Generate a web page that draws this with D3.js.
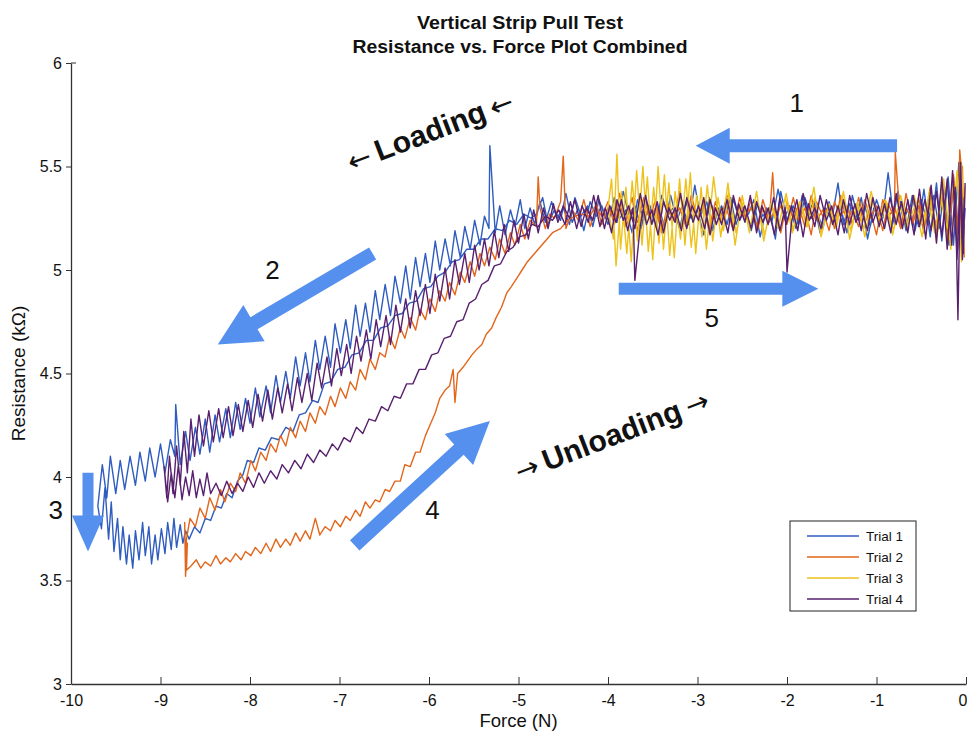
<!DOCTYPE html>
<html>
<head>
<meta charset="utf-8">
<script src="https://cdn.jsdelivr.net/npm/d3@7"></script>
<style>
body { margin: 0; background: #fff; }
svg text { font-family: "Liberation Sans", Arial, sans-serif; fill: #111; }
</style>
</head>
<body>
<div id="chart"></div>
<script>
// axis ticks
const xTicks = [-10, -9, -8, -7, -6, -5, -4, -3, -2, -1, 0];
const yTicks = [3, 3.5, 4, 4.5, 5, 5.5, 6];

const trialNames = ["Trial 1", "Trial 2", "Trial 3", "Trial 4"];
const trialColors = ["#2f5cbf", "#e2661b", "#edc21c", "#58206e"];

// [force (N), resistance (kOhm)], in recording order
const trial1 = [
  [-0.03,5.10],[-0.06,5.50],[-0.1,5.18],[-0.14,5.45],[-0.19,5.12],[-0.24,5.40],[-0.3,5.20],[-0.36,5.36],[-0.43,5.22],[-0.5,5.34],[-0.57,5.19],[-0.63,5.31],[-0.7,5.24],[-0.76,5.38],[-0.83,5.21],[-0.9,5.33],[-0.97,5.26],[-1.03,5.30],[-1.1,5.15],[-1.17,5.35],[-1.23,5.25],[-1.3,5.32],[-1.37,5.22],[-1.43,5.42],[-1.5,5.24],[-1.57,5.30],[-1.63,5.18],[-1.7,5.33],[-1.77,5.27],[-1.83,5.36],[-1.9,5.20],[-1.97,5.31],[-2.03,5.25],[-2.1,5.39],[-2.17,5.23],[-2.23,5.30],[-2.3,5.16],[-2.37,5.34],[-2.43,5.27],[-2.5,5.31],[-2.57,5.22],[-2.63,5.35],[-2.7,5.25],[-2.77,5.30],[-2.83,5.19],[-2.9,5.33],[-2.97,5.26],[-3.03,5.41],[-3.1,5.22],[-3.17,5.31],[-3.23,5.24],[-3.3,5.36],[-3.37,5.21],[-3.43,5.30],[-3.5,5.26],[-3.57,5.33],[-3.63,5.20],[-3.7,5.31],[-3.77,5.27],[-3.83,5.38],[-3.9,5.23],[-3.97,5.30],[-4.03,5.25],[-4.1,5.34],[-4.17,5.21],[-4.23,5.31],[-4.3,5.26],[-4.37,5.35],[-4.43,5.22],[-4.5,5.30],[-4.57,5.25],[-4.63,5.33],[-4.7,5.23],
  [-4.76,5.33],[-4.82,5.22],[-4.87,5.30],[-4.93,5.20],[-4.98,5.34],[-5.04,5.21],[-5.09,5.29],[-5.15,5.17],[-5.21,5.31],[-5.26,5.18],[-5.32,5.60],[-5.33,5.20],[-5.38,5.26],[-5.43,5.12],[-5.49,5.24],[-5.54,5.10],[-5.6,5.21],[-5.65,5.06],[-5.71,5.19],[-5.76,5.02],[-5.82,5.15],[-5.88,5.00],[-5.93,5.14],[-5.99,4.94],[-6.04,5.08],[-6.1,4.92],[-6.15,5.06],[-6.21,4.86],[-6.26,5.02],[-6.32,4.84],[-6.38,4.97],[-6.43,4.78],[-6.49,4.93],[-6.55,4.76],[-6.6,4.90],[-6.66,4.70],[-6.71,4.84],[-6.77,4.68],[-6.82,4.83],[-6.88,4.62],[-6.93,4.76],[-6.99,4.60],[-7.05,4.74],[-7.1,4.53],[-7.16,4.68],[-7.22,4.52],[-7.27,4.66],[-7.33,4.46],[-7.38,4.60],[-7.44,4.44],[-7.49,4.58],[-7.55,4.38],[-7.6,4.51],[-7.66,4.36],[-7.71,4.49],[-7.77,4.31],[-7.82,4.44],[-7.89,4.29],[-7.94,4.43],[-8.0,4.26],[-8.05,4.38],[-8.11,4.23],[-8.16,4.36],[-8.22,4.19],[-8.27,4.33],[-8.34,4.17],[-8.39,4.30],[-8.45,4.12],[-8.5,4.28],[-8.56,4.11],[-8.61,4.24],[-8.67,4.08],[-8.72,4.22],[-8.78,4.06],[-8.83,4.35],[-8.84,4.10],[-8.89,4.18],[-8.95,4.02],[-9.0,4.16],[-9.06,4.00],[-9.12,4.14],[-9.17,3.98],[-9.23,4.12],[-9.28,3.96],[-9.34,4.10],[-9.4,3.94],[-9.45,4.08],[-9.5,3.92],[-9.56,4.10],[-9.6,3.90],[-9.65,4.06],[-9.7,3.86],
  [-9.66,3.75],[-9.62,3.95],[-9.58,3.70],[-9.55,3.88],[-9.52,3.64],[-9.48,3.80],[-9.45,3.60],[-9.42,3.76],[-9.38,3.58],[-9.35,3.72],[-9.31,3.56],[-9.28,3.74],[-9.24,3.60],[-9.2,3.78],[-9.17,3.62],[-9.13,3.76],[-9.1,3.58],[-9.06,3.72],[-9.03,3.60],[-8.99,3.75],[-8.95,3.63],[-8.92,3.78],[-8.88,3.65],[-8.85,3.80],[-8.82,3.66],[-8.78,3.77],[-8.75,3.68],[-8.72,3.74],
  [-8.68,3.70],[-8.62,3.76],[-8.56,3.73],[-8.5,3.80],[-8.44,3.79],[-8.38,3.86],[-8.32,3.85],[-8.26,3.92],[-8.2,3.90],[-8.14,3.98],[-8.08,4.01],[-8.03,4.08],[-7.96,4.07],[-7.9,4.14],[-7.83,4.13],[-7.76,4.19],[-7.68,4.18],[-7.6,4.24],[-7.52,4.22],[-7.45,4.30],[-7.38,4.31],[-7.3,4.37],[-7.24,4.36],[-7.17,4.45],[-7.1,4.46],[-7.02,4.52],[-6.94,4.53],[-6.86,4.59],[-6.78,4.60],[-6.7,4.66],[-6.62,4.66],[-6.54,4.72],[-6.46,4.73],[-6.38,4.78],[-6.3,4.79],[-6.22,4.84],[-6.14,4.85],[-6.06,4.91],[-5.98,4.92],[-5.9,4.97],[-5.82,4.99],[-5.74,5.04],[-5.66,5.05],[-5.58,5.10],[-5.5,5.10],[-5.42,5.15],[-5.34,5.15],[-5.26,5.20],[-5.18,5.19],[-5.1,5.24],[-5.02,5.22],[-4.94,5.27],[-4.86,5.25],
  [-4.8,5.27],[-4.73,5.35],[-4.67,5.22],[-4.6,5.29],[-4.53,5.24],[-4.47,5.37],[-4.4,5.23],[-4.33,5.30],[-4.27,5.19],[-4.2,5.33],[-4.13,5.26],[-4.07,5.31],[-4.0,5.22],[-3.93,5.35],[-3.87,5.25],[-3.8,5.29],[-3.73,5.18],[-3.67,5.34],[-3.6,5.24],[-3.53,5.31],[-3.47,5.21],[-3.4,5.36],[-3.33,5.27],[-3.27,5.30],[-3.2,5.20],[-3.13,5.33],[-3.07,5.25],[-3.0,5.29],[-2.93,5.17],[-2.87,5.35],[-2.8,5.26],[-2.73,5.31],[-2.67,5.22],[-2.6,5.34],[-2.53,5.24],[-2.47,5.29],[-2.4,5.19],[-2.33,5.32],[-2.27,5.26],[-2.2,5.30],[-2.13,5.15],[-2.07,5.38],[-2.0,5.24],[-1.93,5.31],[-1.87,5.22],[-1.8,5.35],[-1.73,5.25],[-1.67,5.29],[-1.6,5.20],[-1.53,5.33],[-1.47,5.23],[-1.4,5.30],[-1.33,5.18],[-1.27,5.36],[-1.2,5.24],[-1.13,5.31],[-1.07,5.21],[-1.0,5.34],[-0.93,5.25],[-0.87,5.47],[-0.8,5.22],[-0.73,5.33],[-0.67,5.19],[-0.6,5.36],[-0.53,5.21],[-0.47,5.39],[-0.4,5.16],[-0.33,5.42],[-0.27,5.14],[-0.2,5.45],[-0.14,5.12],[-0.08,5.52],[-0.04,5.08],[-0.01,5.30]
];

const trial2 = [
  [-0.02,5.28],[-0.05,5.48],[-0.07,5.58],[-0.09,5.15],[-0.14,5.40],[-0.2,5.18],[-0.27,5.37],[-0.33,5.21],[-0.4,5.33],[-0.47,5.22],[-0.53,5.35],[-0.6,5.24],[-0.67,5.30],[-0.73,5.20],[-0.79,5.57],[-0.8,5.25],[-0.87,5.32],[-0.93,5.19],[-1.0,5.31],[-1.07,5.25],[-1.13,5.34],[-1.2,5.21],[-1.27,5.29],[-1.33,5.23],[-1.4,5.36],[-1.47,5.20],[-1.53,5.31],[-1.6,5.26],[-1.67,5.33],[-1.73,5.17],[-1.8,5.30],[-1.87,5.24],[-1.93,5.35],[-2.0,5.22],[-2.07,5.31],[-2.13,5.25],[-2.16,5.47],[-2.2,5.23],[-2.27,5.30],[-2.33,5.19],[-2.4,5.34],[-2.47,5.24],[-2.53,5.31],[-2.6,5.21],[-2.67,5.36],[-2.73,5.26],[-2.8,5.30],[-2.87,5.18],[-2.93,5.33],[-3.0,5.25],[-3.07,5.31],[-3.13,5.22],[-3.2,5.38],[-3.27,5.24],[-3.33,5.29],[-3.4,5.20],[-3.47,5.34],[-3.53,5.25],[-3.6,5.30],[-3.67,5.19],[-3.73,5.35],[-3.8,5.24],[-3.87,5.31],[-3.93,5.22],[-4.0,5.33],[-4.07,5.26],[-4.13,5.30],[-4.2,5.21],[-4.27,5.34],[-4.33,5.24],[-4.4,5.29],[-4.47,5.20],[-4.5,5.55],[-4.53,5.33],[-4.6,5.25],
  [-4.65,5.27],[-4.7,5.20],[-4.76,5.30],[-4.78,5.45],[-4.8,5.21],[-4.87,5.24],[-4.93,5.15],[-4.98,5.22],[-5.04,5.12],[-5.09,5.18],[-5.15,5.08],[-5.21,5.15],[-5.26,5.05],[-5.32,5.11],[-5.38,5.02],[-5.43,5.08],[-5.49,4.97],[-5.54,5.04],[-5.6,4.94],[-5.65,4.99],[-5.71,4.88],[-5.77,4.94],[-5.82,4.85],[-5.88,4.90],[-5.93,4.80],[-5.99,4.86],[-6.04,4.76],[-6.1,4.81],[-6.15,4.71],[-6.21,4.77],[-6.27,4.67],[-6.32,4.72],[-6.38,4.62],[-6.44,4.68],[-6.49,4.58],[-6.55,4.60],[-6.6,4.52],[-6.66,4.57],[-6.71,4.47],[-6.77,4.52],[-6.82,4.42],[-6.88,4.46],[-6.93,4.38],[-6.99,4.43],[-7.05,4.34],[-7.1,4.39],[-7.16,4.30],[-7.22,4.34],[-7.27,4.26],[-7.33,4.31],[-7.38,4.22],[-7.44,4.27],[-7.49,4.19],[-7.55,4.24],[-7.6,4.15],[-7.66,4.20],[-7.71,4.12],[-7.77,4.16],[-7.82,4.08],[-7.88,4.12],[-7.94,4.03],[-7.99,4.08],[-8.05,3.97],[-8.11,4.02],[-8.16,3.93],[-8.22,3.97],[-8.28,3.88],[-8.33,3.94],[-8.39,3.84],[-8.45,3.90],[-8.5,3.80],[-8.56,3.85],[-8.61,3.76],[-8.67,3.80],[-8.71,3.70],
  [-8.72,3.58],[-8.73,3.78],[-8.72,3.52],[-8.7,3.68],[-8.71,3.55],
  [-8.66,3.57],[-8.6,3.60],[-8.55,3.56],[-8.5,3.59],[-8.44,3.57],[-8.38,3.62],[-8.33,3.58],[-8.27,3.61],[-8.22,3.59],[-8.16,3.63],[-8.1,3.60],[-8.05,3.64],[-7.99,3.62],[-7.94,3.66],[-7.88,3.63],[-7.82,3.68],[-7.77,3.64],[-7.71,3.70],[-7.66,3.66],[-7.6,3.70],[-7.55,3.67],[-7.49,3.73],[-7.44,3.69],[-7.38,3.74],[-7.33,3.70],[-7.27,3.80],[-7.22,3.72],[-7.16,3.76],[-7.1,3.74],[-7.05,3.79],[-6.99,3.76],[-6.93,3.81],[-6.88,3.79],[-6.82,3.84],[-6.77,3.81],[-6.71,3.88],[-6.66,3.85],[-6.6,3.89],[-6.55,3.88],[-6.49,3.94],[-6.44,3.93],[-6.38,3.98],[-6.32,3.98],[-6.27,4.06],[-6.21,4.05],[-6.15,4.12],[-6.1,4.12],[-6.04,4.20],[-5.99,4.25],[-5.93,4.31],[-5.88,4.38],[-5.82,4.42],[-5.77,4.44],[-5.73,4.52],[-5.71,4.36],[-5.68,4.50],[-5.62,4.53],[-5.57,4.56],[-5.52,4.59],[-5.46,4.62],[-5.41,4.64],[-5.36,4.69],[-5.3,4.72],[-5.25,4.77],[-5.19,4.82],[-5.13,4.89],[-5.08,4.92],[-5.02,4.96],[-4.96,5.00],[-4.9,5.04],[-4.84,5.07],[-4.78,5.10],[-4.7,5.14],[-4.62,5.18],[-4.53,5.20],[-4.45,5.24],[-4.37,5.26],[-4.29,5.27],[-4.2,5.26],
  [-4.13,5.32],[-4.07,5.22],[-4.0,5.30],[-3.93,5.24],[-3.87,5.37],[-3.8,5.21],[-3.73,5.29],[-3.67,5.23],[-3.6,5.35],[-3.53,5.25],[-3.47,5.30],[-3.4,5.18],[-3.33,5.32],[-3.27,5.24],[-3.2,5.30],[-3.13,5.21],[-3.07,5.36],[-3.0,5.25],[-2.93,5.31],[-2.87,5.20],[-2.8,5.33],[-2.73,5.23],[-2.67,5.29],[-2.6,5.19],[-2.53,5.35],[-2.47,5.26],[-2.4,5.30],[-2.33,5.21],[-2.27,5.34],[-2.2,5.24],[-2.13,5.29],[-2.07,5.18],[-2.0,5.33],[-1.93,5.25],[-1.87,5.31],[-1.8,5.21],[-1.73,5.36],[-1.67,5.24],[-1.6,5.29],[-1.53,5.19],[-1.47,5.33],[-1.4,5.26],[-1.33,5.31],[-1.27,5.22],[-1.2,5.35],[-1.13,5.23],[-1.07,5.29],[-1.0,5.17],[-0.93,5.34],[-0.87,5.25],[-0.8,5.31],[-0.73,5.20],[-0.67,5.37],[-0.6,5.22],[-0.53,5.31],[-0.47,5.18],[-0.4,5.40],[-0.33,5.17],[-0.27,5.42],[-0.2,5.14],[-0.14,5.46],[-0.08,5.12],[-0.04,5.50],[-0.02,5.06]
];

const trial3 = [
  [-0.02,5.22],[-0.05,5.52],[-0.09,5.10],[-0.15,5.42],[-0.21,5.20],[-0.28,5.35],[-0.35,5.18],[-0.42,5.33],[-0.5,5.22],[-0.58,5.36],[-0.66,5.20],[-0.74,5.32],[-0.82,5.17],[-0.9,5.34],[-0.98,5.24],[-1.06,5.38],[-1.14,5.20],[-1.22,5.31],[-1.3,5.15],[-1.38,5.36],[-1.46,5.22],[-1.54,5.30],[-1.62,5.16],[-1.7,5.40],[-1.78,5.21],[-1.86,5.33],[-1.94,5.18],[-2.02,5.35],[-2.1,5.20],[-2.18,5.32],[-2.26,5.14],[-2.34,5.38],[-2.42,5.18],[-2.5,5.36],[-2.58,5.12],[-2.66,5.42],[-2.74,5.16],[-2.82,5.45],[-2.9,5.10],[-2.96,5.40],[-3.02,5.08],[-3.08,5.47],[-3.14,5.12],[-3.2,5.44],[-3.26,5.06],[-3.32,5.42],[-3.38,5.10],[-3.44,5.50],[-3.5,5.05],[-3.56,5.45],[-3.62,5.12],[-3.68,5.48],[-3.74,5.04],[-3.8,5.40],[-3.86,5.10],[-3.9,5.56],[-3.94,5.15],[-4.0,5.30],
  [-3.96,5.44],[-3.91,5.02],[-3.85,5.38],[-3.79,5.08],[-3.73,5.43],[-3.67,5.14],[-3.61,5.50],[-3.55,5.09],[-3.49,5.40],[-3.43,5.13],[-3.37,5.46],[-3.31,5.07],[-3.25,5.38],[-3.19,5.15],[-3.13,5.44],[-3.07,5.11],[-3.01,5.36],[-2.95,5.16],[-2.89,5.41],[-2.83,5.14],[-2.77,5.35],[-2.71,5.19],[-2.65,5.38],[-2.57,5.18],[-2.49,5.33],[-2.41,5.21],[-2.33,5.34],[-2.25,5.17],[-2.17,5.31],[-2.09,5.22],[-2.01,5.37],[-1.93,5.19],[-1.85,5.33],[-1.77,5.21],[-1.69,5.35],[-1.61,5.18],[-1.53,5.32],[-1.45,5.20],[-1.37,5.38],[-1.29,5.19],[-1.21,5.33],[-1.13,5.16],[-1.05,5.35],[-0.97,5.21],[-0.89,5.33],[-0.81,5.19],[-0.73,5.36],[-0.65,5.22],[-0.57,5.31],[-0.49,5.16],[-0.41,5.38],[-0.33,5.14],[-0.25,5.44],[-0.17,5.10],[-0.1,5.48],[-0.05,5.04],[-0.01,5.40]
];

const trial4 = [
  [-0.02,5.35],[-0.04,5.05],[-0.06,5.50],[-0.09,4.76],[-0.12,5.40],[-0.16,5.12],[-0.21,5.44],[-0.27,5.16],[-0.33,5.38],[-0.39,5.19],[-0.46,5.34],[-0.52,5.21],[-0.59,5.36],[-0.65,5.18],[-0.72,5.33],[-0.78,5.22],[-0.85,5.35],[-0.91,5.20],[-0.98,5.31],[-1.04,5.23],[-1.11,5.37],[-1.17,5.19],[-1.24,5.32],[-1.3,5.22],[-1.37,5.34],[-1.43,5.17],[-1.5,5.31],[-1.56,5.24],[-1.63,5.36],[-1.69,5.21],[-1.76,5.32],[-1.82,5.16],[-1.89,5.34],[-1.95,5.23],[-2.0,4.99],[-2.02,5.30],[-2.08,5.19],[-2.15,5.35],[-2.21,5.22],[-2.28,5.31],[-2.34,5.18],[-2.41,5.36],[-2.47,5.23],[-2.54,5.32],[-2.6,5.19],[-2.67,5.34],[-2.73,5.22],[-2.8,5.30],[-2.86,5.17],[-2.93,5.35],[-2.99,5.24],[-3.06,5.31],[-3.12,5.20],[-3.19,5.37],[-3.25,5.23],[-3.32,5.30],[-3.38,5.18],[-3.45,5.33],[-3.51,5.22],[-3.58,5.36],[-3.64,5.21],[-3.7,4.95],[-3.72,5.30],[-3.78,5.19],[-3.85,5.34],[-3.91,5.23],[-3.98,5.31],[-4.04,5.20],[-4.11,5.36],[-4.17,5.24],[-4.24,5.30],[-4.3,5.21],[-4.37,5.34],[-4.43,5.25],[-4.5,5.31],
  [-4.56,5.23],[-4.61,5.32],[-4.67,5.20],[-4.72,5.30],[-4.78,5.18],[-4.83,5.29],[-4.89,5.15],[-4.94,5.27],[-5.0,5.13],[-5.05,5.24],[-5.11,5.09],[-5.16,5.22],[-5.22,5.06],[-5.27,5.19],[-5.33,5.02],[-5.38,5.15],[-5.44,5.00],[-5.49,5.12],[-5.55,4.94],[-5.6,5.08],[-5.66,4.93],[-5.71,5.05],[-5.77,4.86],[-5.82,5.01],[-5.88,4.85],[-5.93,4.98],[-5.99,4.79],[-6.04,4.93],[-6.1,4.78],[-6.15,4.90],[-6.21,4.72],[-6.26,4.86],[-6.32,4.70],[-6.37,4.83],[-6.43,4.64],[-6.48,4.78],[-6.54,4.63],[-6.59,4.76],[-6.65,4.57],[-6.7,4.71],[-6.76,4.56],[-6.81,4.68],[-6.87,4.50],[-6.92,4.64],[-6.98,4.49],[-7.03,4.62],[-7.09,4.44],[-7.14,4.58],[-7.2,4.43],[-7.25,4.55],[-7.31,4.37],[-7.36,4.50],[-7.42,4.36],[-7.47,4.48],[-7.53,4.32],[-7.58,4.45],[-7.64,4.31],[-7.69,4.43],[-7.75,4.28],[-7.8,4.42],[-7.86,4.27],[-7.91,4.40],[-7.97,4.24],[-8.02,4.37],[-8.08,4.22],[-8.13,4.35],[-8.19,4.20],[-8.24,4.34],[-8.3,4.19],[-8.35,4.33],[-8.41,4.17],[-8.46,4.32],[-8.52,4.15],[-8.57,4.30],
  [-8.62,4.10],[-8.66,4.28],[-8.7,4.02],[-8.74,4.22],[-8.78,3.96],[-8.82,4.15],[-8.86,3.92],[-8.9,4.10],[-8.93,3.90],[-8.96,4.05],[-8.92,3.88],[-8.88,4.02],[-8.84,3.90],[-8.8,4.06],[-8.76,3.89],[-8.72,4.00],[-8.68,3.91],[-8.64,4.03],[-8.6,3.90],[-8.56,3.99],[-8.52,3.91],[-8.48,4.02],[-8.44,3.92],
  [-8.38,3.97],[-8.32,3.91],[-8.26,3.98],[-8.2,3.92],[-8.14,3.97],[-8.08,3.93],[-8.02,4.00],[-7.96,3.95],[-7.9,4.02],[-7.84,3.97],[-7.77,4.03],[-7.7,3.99],[-7.64,4.06],[-7.57,4.02],[-7.5,4.08],[-7.43,4.04],[-7.36,4.11],[-7.29,4.07],[-7.22,4.13],[-7.15,4.10],[-7.08,4.16],[-7.02,4.13],[-6.95,4.19],[-6.88,4.17],[-6.81,4.24],[-6.74,4.21],[-6.67,4.28],[-6.6,4.27],[-6.53,4.34],[-6.46,4.32],[-6.39,4.39],[-6.32,4.38],[-6.25,4.45],[-6.18,4.45],[-6.11,4.52],[-6.04,4.52],[-5.97,4.59],[-5.9,4.60],[-5.83,4.67],[-5.76,4.68],[-5.69,4.75],[-5.62,4.76],[-5.55,4.84],[-5.48,4.86],[-5.41,4.93],[-5.34,4.95],[-5.27,5.02],[-5.2,5.03],[-5.13,5.09],[-5.06,5.11],[-4.99,5.16],[-4.92,5.17],[-4.85,5.22],[-4.78,5.21],[-4.7,5.26],[-4.62,5.24],[-4.55,5.29],
  [-4.48,5.22],[-4.42,5.33],[-4.35,5.20],[-4.29,5.31],[-4.22,5.23],[-4.16,5.36],[-4.09,5.21],[-4.03,5.30],[-3.96,5.18],[-3.9,5.34],[-3.83,5.24],[-3.77,5.31],[-3.7,5.20],[-3.64,5.37],[-3.57,5.22],[-3.51,5.29],[-3.44,5.17],[-3.38,5.33],[-3.31,5.24],[-3.25,5.30],[-3.18,5.19],[-3.12,5.35],[-3.05,5.23],[-2.99,5.31],[-2.92,5.20],[-2.86,5.34],[-2.79,5.22],[-2.73,5.30],[-2.66,5.18],[-2.6,5.36],[-2.53,5.24],[-2.47,5.31],[-2.4,5.20],[-2.34,5.33],[-2.27,5.23],[-2.21,5.30],[-2.14,5.17],[-2.08,5.35],[-2.01,5.22],[-1.95,5.31],[-1.88,5.19],[-1.82,5.37],[-1.75,5.24],[-1.69,5.30],[-1.62,5.20],[-1.56,5.34],[-1.49,5.22],[-1.43,5.31],[-1.36,5.18],[-1.3,5.36],[-1.23,5.23],[-1.17,5.30],[-1.1,5.19],[-1.04,5.35],[-0.97,5.21],[-0.91,5.32],[-0.84,5.18],[-0.78,5.37],[-0.71,5.20],[-0.65,5.34],[-0.58,5.17],[-0.52,5.39],[-0.45,5.15],[-0.39,5.41],[-0.33,5.13],[-0.27,5.45],[-0.21,5.10],[-0.15,5.48],[-0.1,5.05],[-0.06,5.52],[-0.03,5.08],[-0.01,5.42]
];

const trials = [trial1, trial2, trial3, trial4];

const w = 967;
const h = 740;
const arrowColor = "#5590ef";

let svg = d3.select("#chart")
    .append("svg")
    .attr("width", w)
    .attr("height", h);

const x = d3.scaleLinear().domain([-10, 0]).range([71, 966]);
const y = d3.scaleLinear().domain([3, 6]).range([684, 63]);

// title
svg.append("text")
    .attr("x", 520).attr("y", 29)
    .attr("text-anchor", "middle")
    .attr("font-size", 18).attr("font-weight", "bold")
    .attr("textLength", 206).attr("lengthAdjust", "spacingAndGlyphs")
    .text("Vertical Strip Pull Test");
svg.append("text")
    .attr("x", 520).attr("y", 53)
    .attr("text-anchor", "middle")
    .attr("font-size", 18).attr("font-weight", "bold")
    .attr("textLength", 335).attr("lengthAdjust", "spacingAndGlyphs")
    .text("Resistance vs. Force Plot Combined");

// series
const line = d3.line()
    .x(d => x(d[0]))
    .y(d => y(d[1]));

svg.append("g")
    .selectAll("path")
    .data(trials)
    .join("path")
    .attr("d", line)
    .attr("fill", "none")
    .attr("stroke", (d, i) => trialColors[i])
    .attr("stroke-width", 1.4)
    .attr("stroke-linejoin", "round");

// axes
const xAxis = svg.append("g")
    .attr("transform", "translate(0," + y(3) + ")")
    .call(d3.axisBottom(x).tickValues(xTicks).tickFormat(d => String(d))
        .tickSizeInner(-7).tickSizeOuter(0).tickPadding(11));
const yAxis = svg.append("g")
    .attr("transform", "translate(" + x(-10) + ",0)")
    .call(d3.axisLeft(y).tickValues(yTicks).tickFormat(d => String(d))
        .tickSizeInner(5).tickSizeOuter(0).tickPadding(4));

[xAxis, yAxis].forEach(a => {
    a.selectAll("text").attr("font-size", 16).attr("fill", "#222")
        .attr("font-family", "'Liberation Sans', Arial, sans-serif");
    a.selectAll("line").attr("stroke", "#333");
    a.select(".domain").attr("stroke", "#333").attr("stroke-width", 1.3);
});
// the last x label sits on the right edge, keep it inside
xAxis.selectAll(".tick text").filter(d => d === 0).attr("text-anchor", "end").attr("x", 1);

// small stub at the top of the y axis
svg.append("line")
    .attr("x1", x(-10)).attr("x2", x(-10) + 5)
    .attr("y1", y(6)).attr("y2", y(6))
    .attr("stroke", "#333");

svg.append("text")
    .attr("x", x(-5)).attr("y", 727)
    .attr("text-anchor", "middle")
    .attr("font-size", 18.5)
    .text("Force (N)");
svg.append("text")
    .attr("transform", "translate(25," + y(4.5) + ") rotate(-90)")
    .attr("text-anchor", "middle")
    .attr("font-size", 19)
    .text("Resistance (k\u03A9)");

// legend
const legend = svg.append("g").attr("transform", "translate(790,521)");
legend.append("rect")
    .attr("width", 126).attr("height", 90)
    .attr("fill", "#fff").attr("stroke", "#222").attr("stroke-width", 1);
trialNames.forEach((name, i) => {
    legend.append("line")
        .attr("x1", 17).attr("x2", 69)
        .attr("y1", 15 + i * 21).attr("y2", 15 + i * 21)
        .attr("stroke", trialColors[i]).attr("stroke-width", 1.5);
    legend.append("text")
        .attr("x", 76).attr("y", 15 + i * 21)
        .attr("dy", "0.35em")
        .attr("font-size", 13.5)
        .text(name);
});

// block arrows drawn in data coordinates
function blockArrow(f0, r0, f1, r1, shaft, headW, headL) {
    const x0 = x(f0), y0 = y(r0), x1 = x(f1), y1 = y(r1);
    const len = Math.hypot(x1 - x0, y1 - y0);
    const ux = (x1 - x0) / len, uy = (y1 - y0) / len;
    const px = -uy, py = ux;
    const nx = x1 - ux * headL, ny = y1 - uy * headL;
    const pts = [
        [x0 + px * shaft / 2, y0 + py * shaft / 2],
        [nx + px * shaft / 2, ny + py * shaft / 2],
        [nx + px * headW / 2, ny + py * headW / 2],
        [x1, y1],
        [nx - px * headW / 2, ny - py * headW / 2],
        [nx - px * shaft / 2, ny - py * shaft / 2],
        [x0 - px * shaft / 2, y0 - py * shaft / 2]
    ];
    svg.append("polygon")
        .attr("points", pts.map(p => p.join(",")).join(" "))
        .attr("fill", arrowColor);
}
blockArrow(-0.77, 5.60, -3.02, 5.60, 13, 36, 34);   // 1
blockArrow(-6.63, 5.08, -8.36, 4.64, 14, 42, 42);   // 2
blockArrow(-9.81, 4.02, -9.81, 3.64, 11, 32, 36);   // 3
blockArrow(-6.83, 3.67, -5.32, 4.27, 14, 42, 42);   // 4
blockArrow(-3.88, 4.91, -1.65, 4.91, 12, 36, 36);   // 5

// step numbers
[["1", -1.89, 5.81], ["2", -7.75, 5.0], ["3", -10.17, 3.84], ["4", -5.96, 3.84], ["5", -2.84, 4.77]]
    .forEach(n => {
        svg.append("text")
            .attr("x", x(n[1])).attr("y", y(n[2]))
            .attr("dy", "0.36em")
            .attr("text-anchor", "middle")
            .attr("font-size", 26)
            .text(n[0]);
    });

// rotated phase labels
function phaseLabel(f, r, arrow, word) {
    const t = svg.append("text")
        .attr("transform", "translate(" + x(f) + "," + y(r) + ") rotate(-21)")
        .attr("text-anchor", "middle")
        .attr("dy", "0.35em");
    t.append("tspan").attr("font-family", "'DejaVu Sans', sans-serif").attr("font-size", 28).text(arrow);
    t.append("tspan").attr("font-size", 30).attr("font-weight", "bold").attr("dx", 6).text(word);
    t.append("tspan").attr("font-family", "'DejaVu Sans', sans-serif").attr("font-size", 28).attr("dx", 6).text(arrow);
}
phaseLabel(-5.97, 5.65, "\u2190", "Loading");
phaseLabel(-3.94, 4.18, "\u2192", "Unloading");
</script>
</body>
</html>
